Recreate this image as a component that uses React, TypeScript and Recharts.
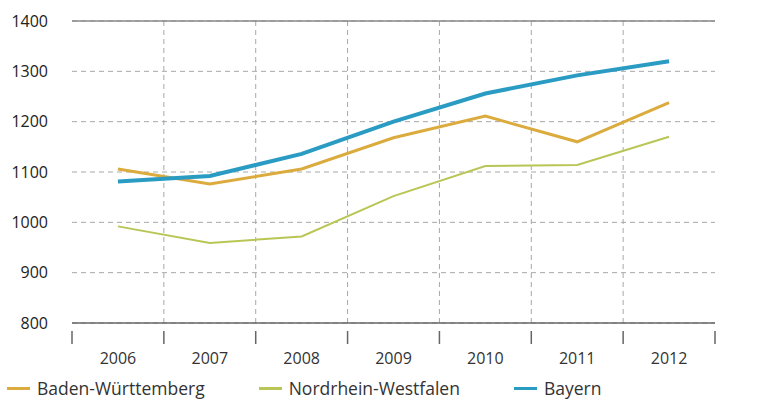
import React from "react"
import { LineChart, Line, XAxis, YAxis, CartesianGrid, ReferenceLine } from "recharts"

const years = ["2006", "2007", "2008", "2009", "2010", "2011", "2012"]
const badenWuerttemberg = [1106, 1076, 1106, 1168, 1211, 1160, 1238]
const nordrheinWestfalen = [992, 959, 972, 1052, 1112, 1114, 1170]
const bayern = [1081, 1092, 1136, 1200, 1256, 1292, 1320]
const yTicks = [800, 900, 1000, 1100, 1200, 1300, 1400]
const boundaries = [1, 2, 3, 4, 5, 6]

const series = [
  { key: "bw", name: "Baden-Württemberg", color: "#dcab3e", width: 3 },
  { key: "nrw", name: "Nordrhein-Westfalen", color: "#b9c655", width: 2 },
  { key: "by", name: "Bayern", color: "#2a9cc3", width: 4 },
]

const data = years.map((year, i) => ({
  x: i + 0.5,
  year,
  bw: badenWuerttemberg[i],
  nrw: nordrheinWestfalen[i],
  by: bayern[i],
}))

const xTicks = [0, ...years.flatMap((_, i) => [i + 0.5, i + 1])]

const font = "'Open Sans', 'DejaVu Sans', sans-serif"

function XTick(props: any) {
  const { x, y, payload } = props
  const v = payload.value
  if (Number.isInteger(v)) {
    return <line x1={x} x2={x} y1={y} y2={y + 13} stroke="#666" strokeWidth={1.5} />
  }
  return (
    <text x={x} y={y + 33} textAnchor="middle" fontSize={16} fill="#333" fontFamily={font}>
      {years[Math.floor(v)]}
    </text>
  )
}

export default function App() {
  return (
    <div style={{ position: "absolute", left: 0, top: 0, width: 773, height: 401, background: "#fff" }}>
      <LineChart width={773} height={401} data={data} margin={{ top: 21, right: 0, left: 0, bottom: 0 }}>
        <CartesianGrid yAxisId="left" vertical={false} stroke="#a8a8a8" strokeDasharray="5 4" />
        <XAxis
          dataKey="x"
          type="number"
          domain={[0, 7]}
          ticks={xTicks}
          interval={0}
          height={78}
          tickLine={false}
          axisLine={{ stroke: "#666", strokeWidth: 1.5 }}
          tick={<XTick />}
        />
        <YAxis
          yAxisId="left"
          domain={[800, 1400]}
          ticks={yTicks}
          width={72}
          axisLine={false}
          tickLine={false}
          tickSize={0}
          tickMargin={24}
          tick={{ fontSize: 16, fill: "#222", fontFamily: font }}
        />
        <YAxis
          yAxisId="right"
          orientation="right"
          domain={[800, 1400]}
          ticks={yTicks}
          width={58}
          axisLine={false}
          tickLine={false}
          tickSize={0}
          tickMargin={18}
          tick={{ fontSize: 16, fill: "#222", fontFamily: font, textAnchor: "start" }}
        />
        {boundaries.map((b) => (
          <ReferenceLine key={b} yAxisId="left" x={b} stroke="#a8a8a8" strokeDasharray="5 4" />
        ))}
        <ReferenceLine yAxisId="left" y={1400} stroke="#888" strokeWidth={1.5} />
        {series.map((s) => (
          <Line
            key={s.key}
            yAxisId="left"
            dataKey={s.key}
            stroke={s.color}
            strokeWidth={s.width}
            dot={false}
            type="linear"
            isAnimationActive={false}
          />
        ))}
      </LineChart>
      <div
        style={{
          position: "absolute",
          left: 7,
          top: 376,
          display: "flex",
          fontFamily: font,
          fontSize: 17.5,
          color: "#333",
        }}
      >
        {series.map((s) => (
          <div key={s.key} style={{ display: "flex", alignItems: "center", marginRight: 54 }}>
            <div style={{ width: 23, height: 3, background: s.color, marginRight: 7 }} />
            <span>{s.name}</span>
          </div>
        ))}
      </div>
    </div>
  )
}
